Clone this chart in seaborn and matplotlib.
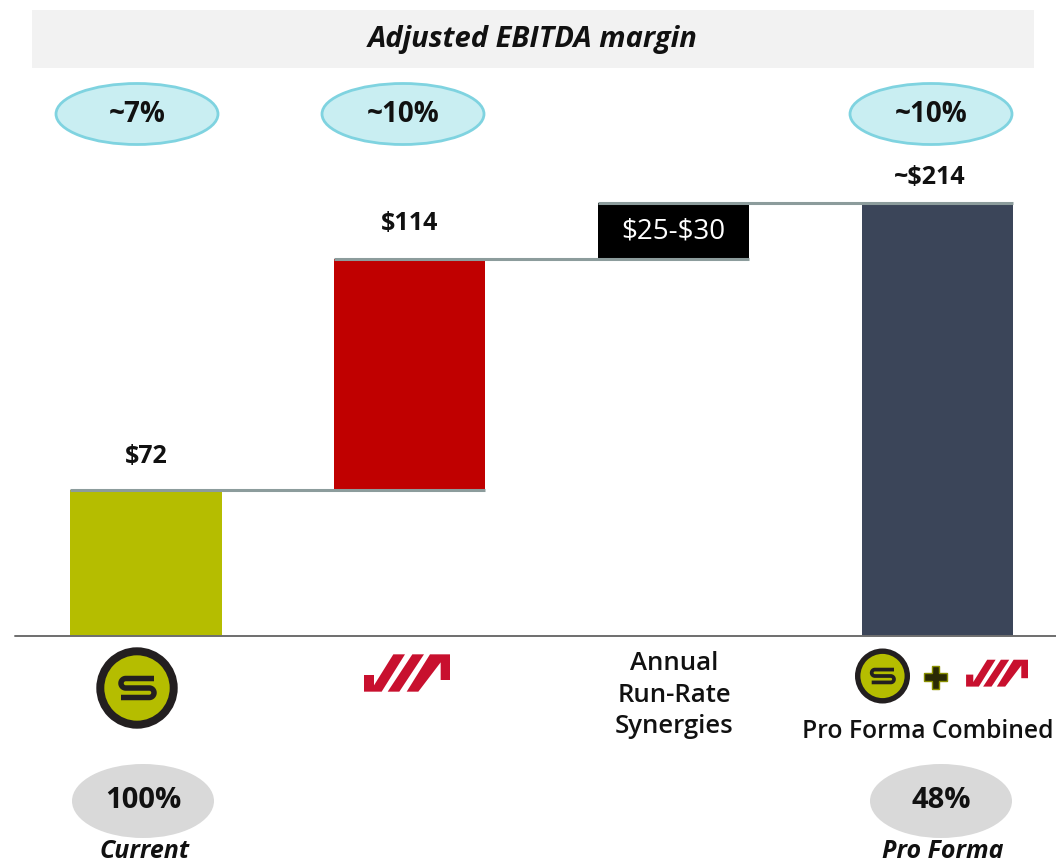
import numpy as np
import pandas as pd
import matplotlib
matplotlib.use('Agg')
import matplotlib.pyplot as plt
from matplotlib.patches import Ellipse, Circle, Rectangle, Polygon
import seaborn as sns

sns.set_style('white')
plt.rcParams['font.family'] = ['Open Sans', 'DejaVu Sans']
plt.rcParams['text.parse_math'] = False

# --- data -------------------------------------------------------------
categories = ['S', 'VIA', 'Synergies', 'Pro Forma']
steps = [72, 114, 28, 214]          # bar heights ($M)
is_total = [False, False, False, True]
value_labels = ['$72', '$114', '$25-$30', '~$214']
margin_labels = ['~7%', '~10%', None, '~10%']
ownership_labels = ['100%', None, None, '48%']
ownership_names = ['Current', None, None, 'Pro Forma']
bar_colors = ['#B5BD00', '#C00000', '#000000', '#3B4559']
title = 'Adjusted EBITDA margin'

# waterfall bottoms / tops
bottoms, tops, run = [], [], 0
for h, tot in zip(steps, is_total):
    if tot:
        bottoms.append(0)
        tops.append(h)
        run = h
    else:
        bottoms.append(run)
        run += h
        tops.append(run)

df = pd.DataFrame({'cat': categories, 'height': steps})

W, H = 1056, 865
fig = plt.figure(figsize=(W / 100, H / 100), dpi=100)
base_px = 636
px_per_unit = 2.025
spacing = 263.7
first_px = 146
bar_w = 0.573

ax = fig.add_axes([0, (H - base_px) / H, 1, base_px / H])
sns.barplot(data=df, x='cat', y='height', hue='cat', palette=bar_colors,
            legend=False, saturation=1, width=bar_w, errorbar=None,
            linewidth=0, ax=ax)
for p, b in zip(ax.patches, bottoms):
    p.set_y(b)
ax.set_xlim(-first_px / spacing, (W - first_px) / spacing)
ax.set_ylim(0, base_px / px_per_unit)
ax.axis('off')

# connector lines
for i in range(len(categories) - 1):
    ax.plot([i - bar_w / 2, i + 1 + bar_w / 2], [tops[i], tops[i]],
            color='#8C9C9C', lw=2.2, zorder=5, solid_capstyle='butt')

# value labels
lab_off = [34, 36, None, 25]
lab_dx = [0, 0, 0, -7]
for i, lab in enumerate(value_labels):
    if i == 2:
        ax.text(i, (bottoms[i] + tops[i]) / 2, lab, color='white',
                ha='center', va='center', fontsize=20, zorder=6)
    else:
        ax.annotate(lab, (i, tops[i]), xytext=(lab_dx[i] * 0.72, lab_off[i] * 0.72),
                    textcoords='offset points', ha='center', va='center',
                    fontsize=18, fontweight='bold', color='#111111')

# --- overlay in pixel coordinates -------------------------------------
ov = fig.add_axes([0, 0, 1, 1], facecolor='none')
ov.set_xlim(0, W)
ov.set_ylim(H, 0)
ov.axis('off')

# title band
ov.add_patch(Rectangle((32, 10), 1002, 58, facecolor='#F2F2F2', edgecolor='none'))
ov.text(533, 40, title, ha='center', va='center', fontsize=21,
        fontweight='bold', fontstyle='italic', color='#111111')

# baseline
ov.plot([15, W], [base_px, base_px], color='#6E6E6E', lw=1.4)

# margin ellipses
ell_x = [137, 403, None, 931]
for x, lab in zip(ell_x, margin_labels):
    if lab is None:
        continue
    ov.add_patch(Ellipse((x, 114), 162, 61, facecolor='#C9EEF2',
                         edgecolor='#7FD3E0', lw=2))
    ov.text(x, 115, lab, ha='center', va='center', fontsize=20,
            fontweight='bold', color='#111111')

# ownership circles
own_x = [143, None, None, 941]
for x, lab, name in zip(own_x, ownership_labels, ownership_names):
    if lab is None:
        continue
    ov.add_patch(Ellipse((x, 801), 142, 74, facecolor='#D9D9D9', edgecolor='none'))
    ov.text(x, 801, lab, ha='center', va='center', fontsize=21,
            fontweight='bold', color='#111111')
    ov.text(x + 2, 851, name, ha='center', va='center', fontsize=18,
            fontweight='bold', fontstyle='italic', color='#111111')


def s_logo(cx, cy, r):
    ring = 8 * r / 40.7
    ov.add_patch(Circle((cx, cy), r - ring / 2, facecolor='#B5BD00',
                        edgecolor='#231F20', lw=ring * 0.72))
    k = r / 40.7
    R = 4.75 * k
    t = np.linspace(0, np.pi, 30)
    lx, rx = cx - 11.25 * k, cx + 12.25 * k
    xs = np.concatenate([[cx + 17 * k], lx - R * np.sin(t),
                         rx + R * np.sin(t), [cx - 16 * k]])
    ys = np.concatenate([[cy - 2 * R], (cy - R) - R * np.cos(t),
                         (cy + R) - R * np.cos(t), [cy + 2 * R]])
    ov.plot(xs, ys, color='#231F20', lw=5.5 * k * 0.72,
            solid_capstyle='butt', solid_joinstyle='round')


def via_logo(x0, y0, s):
    shapes = [
        [(42, 90), (72, 90), (72, 121), (130, 28), (165, 28), (95, 140), (42, 140)],
        [(113, 140), (148, 140), (222, 28), (187, 28)],
        [(170, 140), (205, 140), (272, 52), (272, 105), (300, 105), (300, 28), (240, 28)],
    ]
    for pts in shapes:
        pts = [(x0 + x * s, y0 + y * s) for x, y in pts]
        ov.add_patch(Polygon(pts, closed=True, facecolor='#C8102E', edgecolor='none'))


s_logo(137, 688, 40.7)
via_logo(350, 645, 1 / 3)

# combined logo
s_logo(882.5, 676, 27.5)
a, b = 11.5, 3.8
cx, cy = 935.5, 677
plus = [(cx - b, cy - a), (cx + b, cy - a), (cx + b, cy - b), (cx + a, cy - b),
        (cx + a, cy + b), (cx + b, cy + b), (cx + b, cy + a), (cx - b, cy + a),
        (cx - b, cy + b), (cx - a, cy + b), (cx - a, cy - b), (cx - b, cy - b)]
ov.add_patch(Polygon(plus, closed=True, facecolor='#2A2A05', edgecolor='#8A9000', lw=1))
via_logo(956, 653, 0.24)

# category labels
ov.text(674, 695, 'Annual\nRun-Rate\nSynergies', ha='center', va='center',
        fontsize=18.5, fontweight='semibold', linespacing=1.33, color='#111111')
ov.text(802, 731, 'Pro Forma Combined', ha='left', va='center',
        fontsize=17.7, fontweight='semibold', color='#111111')

fig.savefig('out.png', dpi=100)
